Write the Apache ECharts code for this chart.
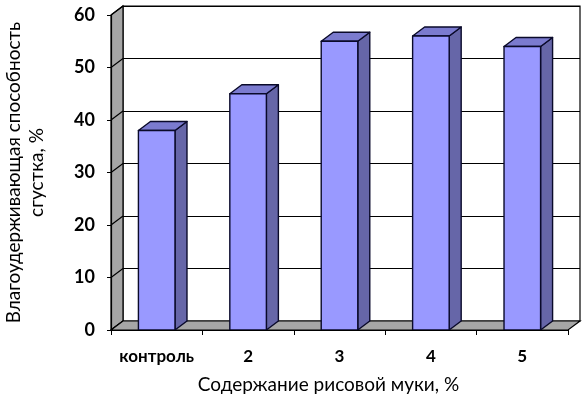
<!DOCTYPE html>
<html><head><meta charset="utf-8">
<script src="https://cdn.jsdelivr.net/npm/echarts@6/dist/echarts.min.js"></script>
<style>html,body{margin:0;padding:0;background:#fff}#c{width:588px;height:397px}</style>
</head><body><div id="c"></div>
<script>
const categories = ['контроль', '2', '3', '4', '5'];
const values = [38, 45, 55, 56, 54];
const yTicks = [0, 10, 20, 30, 40, 50, 60];
const xTitle = 'Содержание рисовой муки, %';
const yTitle = 'Влагоудерживающая способность\nсгустка, %';

const DX = 12, DY = -9;
const FONT = 'Lato, "Noto Sans", sans-serif';
const chart = echarts.init(document.getElementById('c'), null, {renderer: 'canvas'});

function decoRender(params, api) {
  const cs = params.coordSys;
  const left = cs.x, right = cs.x + cs.width;
  const y0 = api.coord([0, yTicks[0]])[1];
  const yTop = api.coord([0, yTicks[yTicks.length - 1]])[1];
  const children = [];
  children.push({type: 'polygon', shape: {points: [[left, y0], [left, yTop], [left + DX, yTop + DY], [left + DX, y0 + DY]]},
    style: {fill: '#a6a6a6', stroke: '#000', lineWidth: 1.2}});
  yTicks.forEach(v => {
    const y = api.coord([0, v])[1];
    children.push({type: 'line', shape: {x1: left, y1: y, x2: left + DX, y2: y + DY}, style: {stroke: '#000', lineWidth: 1.2}});
  });
  children.push({type: 'polygon', shape: {points: [[left, y0], [right, y0], [right + DX, y0 + DY], [left + DX, y0 + DY]]},
    style: {fill: '#a6a6a6', stroke: '#000', lineWidth: 1.2}});
  return {type: 'group', children: children};
}

function barRender(params, api) {
  const i = api.value(0), v = api.value(1);
  const p = api.coord([i, v]);
  const p0 = api.coord([i, 0]);
  const w = api.size([1, 0])[0] * 0.4;
  const x1 = p[0] - w / 2, x2 = p[0] + w / 2;
  const yt = p[1], yb = p0[1];
  const st = {stroke: '#0a0a2a', lineWidth: 1.4, lineJoin: 'round'};
  return {type: 'group', children: [
    {type: 'polygon', shape: {points: [[x2, yb], [x2, yt], [x2 + DX, yt + DY], [x2 + DX, yb + DY]]}, style: Object.assign({fill: '#6666a8'}, st)},
    {type: 'polygon', shape: {points: [[x1, yt], [x2, yt], [x2 + DX, yt + DY], [x1 + DX, yt + DY]]}, style: Object.assign({fill: '#7b7bcf'}, st)},
    {type: 'rect', shape: {x: x1, y: yt, width: w, height: yb - yt}, style: Object.assign({fill: '#9999ff'}, st)}
  ]};
}

chart.setOption({
  animation: false,
  backgroundColor: '#fff',
  grid: [
    {left: 111, right: 20, top: 15, bottom: 67, containLabel: false, outerBoundsMode: 'none'},
    {left: 111 + DX, right: 20 - DX, top: 15 + DY, bottom: 67 - DY, containLabel: false, outerBoundsMode: 'none',
     show: true, backgroundColor: '#fff', borderColor: '#000', borderWidth: 1.2, z: 0}
  ],
  xAxis: [
    {type: 'category', gridIndex: 0, data: categories,
     axisLine: {show: true, lineStyle: {color: '#000', width: 1.2}},
     axisTick: {show: true, length: 5, lineStyle: {color: '#000'}},
     axisLabel: {interval: 0, color: '#000', fontWeight: 'bold', fontSize: 17, fontFamily: FONT, margin: 18},
     name: xTitle, nameLocation: 'middle', nameGap: 45,
     nameTextStyle: {color: '#000', fontSize: 19, fontFamily: FONT, padding: [0, 22, 0, 0]}, z: 5},
    {type: 'category', gridIndex: 1, data: categories, show: false}
  ],
  yAxis: [
    {type: 'value', gridIndex: 0, min: 0, max: 60, interval: 10,
     axisLine: {show: true, lineStyle: {color: '#000', width: 1.2}},
     axisTick: {show: true, length: 4, lineStyle: {color: '#000'}},
     axisLabel: {color: '#000', fontWeight: 'bold', fontSize: 18, fontFamily: FONT, margin: 16},
     splitLine: {show: false},
     name: yTitle, nameLocation: 'middle', nameGap: 63, nameRotate: 90,
     nameTextStyle: {color: '#000', fontSize: 19, fontFamily: FONT, lineHeight: 23}, z: 5},
    {type: 'value', gridIndex: 1, min: 0, max: 60, interval: 10,
     axisLine: {show: false}, axisTick: {show: false}, axisLabel: {show: false},
     splitLine: {show: true, lineStyle: {color: '#000', width: 1.2}}}
  ],
  series: [
    {type: 'custom', xAxisIndex: 0, yAxisIndex: 0, renderItem: decoRender, data: [[0, 0]], z: 1, silent: true, clip: false},
    {type: 'custom', xAxisIndex: 0, yAxisIndex: 0, renderItem: barRender,
     data: values.map((v, i) => [i, v]), z: 3, clip: false}
  ]
});
</script>
</body></html>
